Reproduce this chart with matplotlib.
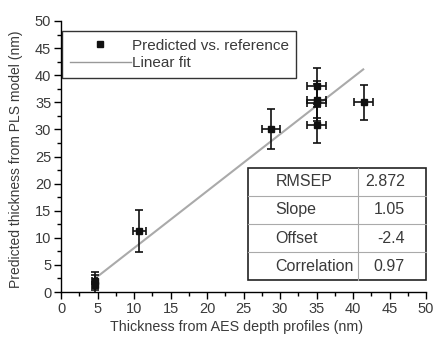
import numpy as np
import matplotlib
matplotlib.use("Agg")
from matplotlib import pyplot as plt
from matplotlib.lines import Line2D
from matplotlib.ticker import MultipleLocator

plt.rcParams['font.family'] = ['Liberation Sans', 'DejaVu Sans']

# AES reference thickness vs. PLS predicted thickness (nm)
ref_x = [4.6, 4.6, 10.7, 28.8, 35.0, 35.0, 35.0, 35.0, 41.5]
pred_y = [1.2, 2.0, 11.3, 30.0, 38.0, 35.5, 34.9, 30.8, 35.0]
x_err = [0.3, 0.3, 0.9, 1.2, 1.3, 1.3, 1.3, 1.3, 1.3]
y_err = [1.9, 1.7, 3.9, 3.7, 3.4, 3.4, 3.4, 3.4, 3.2]

# fit statistics
fit_slope = 1.05
fit_offset = -2.4
fit_range = [4.5, 41.4]
stat_names = ["RMSEP", "Slope", "Offset", "Correlation"]
stat_values = ["2.872", "1.05", "-2.4", "0.97"]

text_col = "#3a3a3a"

fig = plt.figure(figsize=(4.34, 3.41), dpi=100)
ax = fig.add_axes([61 / 434, 1 - 292 / 341, 365 / 434, 271 / 341])

fx = np.array(fit_range)
ax.plot(fx, fit_slope * fx + fit_offset, color="#aaaaaa", lw=1.5, zorder=2)
ax.errorbar(ref_x, pred_y, xerr=x_err, yerr=y_err, fmt="s", ms=5,
            color="#111111", ecolor="#111111", elinewidth=1.2, capsize=3,
            capthick=1.2, zorder=3)

ax.set_xlim(0, 50)
ax.set_ylim(0, 50)
ax.xaxis.set_major_locator(MultipleLocator(5))
ax.xaxis.set_minor_locator(MultipleLocator(2.5))
ax.yaxis.set_major_locator(MultipleLocator(5))
ax.yaxis.set_minor_locator(MultipleLocator(2.5))
ax.tick_params(which="major", direction="out", length=5, width=1,
               labelsize=10.5, labelcolor=text_col, pad=2)
ax.tick_params(which="minor", direction="out", length=3, width=1)
for s in ["top", "right"]:
    ax.spines[s].set_visible(False)
ax.spines["left"].set_linewidth(1)
ax.spines["bottom"].set_linewidth(1)

ax.set_xlabel("Thickness from AES depth profiles (nm)", fontsize=10.3,
              color=text_col)
ax.xaxis.set_label_coords(0.48, -0.105)
ax.set_ylabel("Predicted thickness from PLS model (nm)", fontsize=10,
              color=text_col)
ax.yaxis.set_label_coords(-0.105, 0.49)

handles = [
    Line2D([], [], marker="s", ls="none", color="#111111", ms=5),
    Line2D([], [], color="#999999", lw=1),
]
leg = ax.legend(handles, ["Predicted vs. reference", "Linear fit"],
                loc="upper left", bbox_to_anchor=(0.003, 0.963),
                fontsize=11, frameon=True, fancybox=False, handlelength=4.0,
                handletextpad=0.05, borderpad=0.5, labelspacing=0.25,
                borderaxespad=0)
leg.get_frame().set_edgecolor("black")
leg.get_frame().set_linewidth(1)
for t in leg.get_texts():
    t.set_color(text_col)

# statistics box, drawn in axes fractions
tx0, tx1, tdiv = 0.512, 1.0, 0.815
ty0, ty1 = 0.044, 0.458
row_h = (ty1 - ty0) / len(stat_names)
for i, (name, val) in enumerate(zip(stat_names, stat_values)):
    yc = ty1 - (i + 0.5) * row_h
    ax.text(tx0 + 0.075, yc, name, transform=ax.transAxes, fontsize=11.5,
            color=text_col, ha="left", va="center", zorder=6)
    ax.text(tx1 - 0.058, yc, val, transform=ax.transAxes, fontsize=11.5,
            color=text_col, ha="right", va="center", zorder=6)
    if i > 0:
        ax.plot([tx0, tx1], [ty1 - i * row_h] * 2, transform=ax.transAxes,
                color="#aaaaaa", lw=0.8, zorder=5, clip_on=False)
ax.plot([tdiv, tdiv], [ty0, ty1], transform=ax.transAxes, color="#aaaaaa",
        lw=0.8, zorder=5, clip_on=False)
ax.add_patch(plt.Rectangle((tx0, ty0), tx1 - tx0, ty1 - ty0,
                           transform=ax.transAxes, facecolor="white",
                           edgecolor="#222222", lw=1.2, zorder=4,
                           clip_on=False))

fig.savefig("out.png", dpi=100)
